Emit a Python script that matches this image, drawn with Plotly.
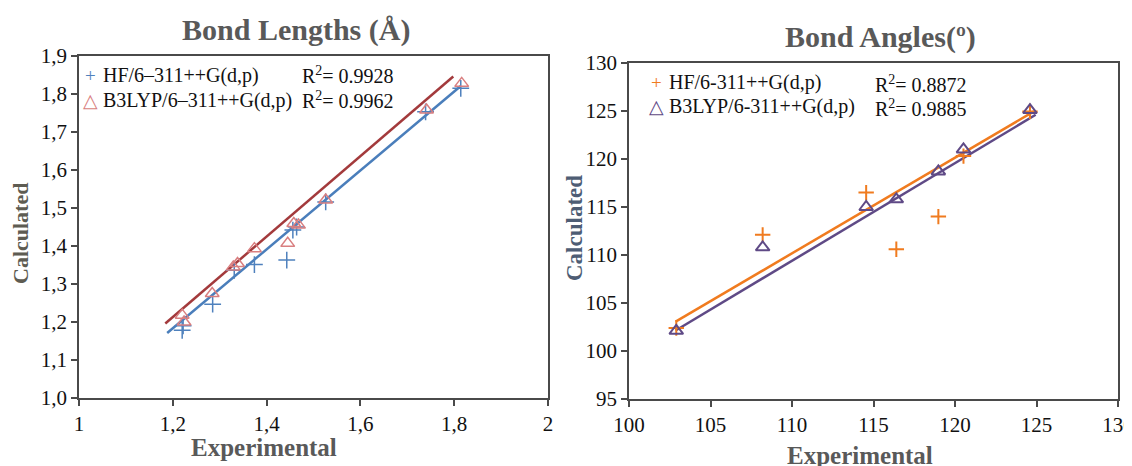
import plotly.graph_objects as go

# ---------------- Bond lengths data ----------------
bl_hf_exp = [1.220, 1.222, 1.285, 1.331, 1.374, 1.443, 1.456, 1.464, 1.526, 1.739, 1.814]
bl_hf_calc = [1.178, 1.190, 1.247, 1.336, 1.351, 1.363, 1.442, 1.450, 1.516, 1.753, 1.815]
bl_b3_exp = [1.220, 1.224, 1.284, 1.329, 1.338, 1.374, 1.445, 1.458, 1.468, 1.526, 1.741, 1.816]
bl_b3_calc = [1.218, 1.200, 1.275, 1.345, 1.354, 1.393, 1.407, 1.459, 1.455, 1.521, 1.758, 1.828]
bl_hf_fit_x = [1.188, 1.814]
bl_hf_fit_y = [1.171, 1.821]
bl_b3_fit_x = [1.184, 1.798]
bl_b3_fit_y = [1.196, 1.846]

# ---------------- Bond angles data ----------------
ba_hf_exp = [102.9, 108.2, 114.55, 116.4, 118.98, 120.52, 124.6]
ba_hf_calc = [102.4, 112.1, 116.5, 110.6, 114.0, 120.3, 124.96]
ba_b3_exp = [102.9, 108.2, 114.55, 116.4, 118.98, 120.52, 124.6]
ba_b3_calc = [102.1, 110.8, 115.0, 115.8, 118.7, 121.0, 125.1]
ba_hf_fit_x = [102.86, 124.84]
ba_hf_fit_y = [103.06, 124.96]
ba_b3_fit_x = [102.86, 124.95]
ba_b3_fit_y = [102.13, 124.61]

W, H = 1132, 466
OFF = 8  # page body margin
SERIF = "Liberation Serif"

BLUE = "#4f81bd"
BLUE_LINE = "#4a7ebb"
RED_MK = "#d97f80"
RED_LINE = "#a33a3c"
ORANGE = "#f07b1f"
PURPLE = "#5f4a86"

fig = go.Figure()

def px_x(p):
    return (p - OFF) / W

def px_y(p):
    return 1 - (p - OFF) / H

# Left chart traces
fig.add_trace(go.Scatter(x=bl_b3_fit_x, y=bl_b3_fit_y, mode="lines",
                         line=dict(color=RED_LINE, width=2.5), xaxis="x", yaxis="y", showlegend=False))
fig.add_trace(go.Scatter(x=bl_hf_fit_x, y=bl_hf_fit_y, mode="lines",
                         line=dict(color=BLUE_LINE, width=2.5), xaxis="x", yaxis="y", showlegend=False))
fig.add_trace(go.Scatter(x=bl_hf_exp, y=bl_hf_calc, mode="markers",
                         marker=dict(symbol="cross-thin-open", size=12, color=BLUE, line=dict(color=BLUE, width=1.5)),
                         xaxis="x", yaxis="y", showlegend=False))
fig.add_trace(go.Scatter(x=bl_b3_exp, y=bl_b3_calc, mode="markers",
                         marker=dict(symbol="triangle-up-open", size=12, color=RED_MK, line=dict(color=RED_MK, width=1.5)),
                         xaxis="x", yaxis="y", showlegend=False))

# Right chart traces
fig.add_trace(go.Scatter(x=ba_hf_fit_x, y=ba_hf_fit_y, mode="lines",
                         line=dict(color=ORANGE, width=2.5), xaxis="x2", yaxis="y2", showlegend=False))
fig.add_trace(go.Scatter(x=ba_b3_fit_x, y=ba_b3_fit_y, mode="lines",
                         line=dict(color=PURPLE, width=2.5), xaxis="x2", yaxis="y2", showlegend=False))
fig.add_trace(go.Scatter(x=ba_hf_exp, y=ba_hf_calc, mode="markers",
                         marker=dict(symbol="cross-thin-open", size=11, color=ORANGE, line=dict(color=ORANGE, width=2)),
                         xaxis="x2", yaxis="y2", showlegend=False))
fig.add_trace(go.Scatter(x=ba_b3_exp, y=ba_b3_calc, mode="markers",
                         marker=dict(symbol="triangle-up-open", size=12, color=PURPLE, line=dict(color=PURPLE, width=2)),
                         xaxis="x2", yaxis="y2", showlegend=False))

axis_common = dict(showgrid=False, zeroline=False, showline=True, linecolor="#4a4a4a", linewidth=1.5,
                   mirror=True, ticks="outside", ticklen=6, tickcolor="#4a4a4a", tickwidth=1.5,
                   automargin=False,
                   tickfont=dict(family=SERIF, size=21, color="#111111"))

fig.update_layout(
    template="none",
    width=W, height=H, margin=dict(l=0, r=0, t=0, b=0, pad=0), autosize=False,
    paper_bgcolor="white", plot_bgcolor="white", separators=",.",
    font=dict(family=SERIF),
    xaxis=dict(domain=[px_x(79), px_x(548)], range=[1, 2], dtick=0.2, tick0=1, anchor="y", **axis_common),
    yaxis=dict(domain=[px_y(398), px_y(56)], range=[1.0, 1.9], dtick=0.1, tick0=1, tickformat=".1f",
               anchor="x", **axis_common),
    xaxis2=dict(domain=[px_x(629), px_x(1118)], range=[100, 130], dtick=5, anchor="y2", **axis_common),
    yaxis2=dict(domain=[px_y(399), px_y(63)], range=[95, 130], dtick=5, anchor="x2", **axis_common),
)

TITLE_C = "#595959"
ann = []
def text(x, y, s, size, color="#111111", bold=False, angle=0, xanchor="center"):
    ann.append(dict(xref="paper", yref="paper", x=px_x(x), y=px_y(y), text=("<b>%s</b>" % s) if bold else s,
                    showarrow=False, xanchor=xanchor, yanchor="middle", textangle=angle,
                    font=dict(family=SERIF, size=size, color=color)))

# Titles
text(296, 30, "Bond Lengths (Å)", 30, TITLE_C, bold=True)
text(880, 37, "Bond Angles(º)", 30, TITLE_C, bold=True)
# Axis titles
text(264, 447, "Experimental", 25, TITLE_C, bold=True)
text(860, 455, "Experimental", 25, TITLE_C, bold=True)
text(20, 234, "Calculated", 22, "#5e5c52", bold=True, angle=-90)
text(574, 228, "Calculated", 23, "#4e5d74", bold=True, angle=-90)

# Left legend
text(91, 75, "+", 19, BLUE)
text(91, 100, "△", 19, RED_MK)
text(101, 75, "HF/6–311++G(d,p)", 20, xanchor="left")
text(101, 100, "B3LYP/6–311++G(d,p)", 20, xanchor="left")
text(300, 75, "R<sup>2</sup>= 0.9928", 20, xanchor="left")
text(300, 100, "R<sup>2</sup>= 0.9962", 20, xanchor="left")

# Right legend
text(656, 82, "+", 19, ORANGE)
text(656, 107, "△", 19, PURPLE)
text(667, 82, "HF/6-311++G(d,p)", 20, xanchor="left")
text(667, 107, "B3LYP/6-311++G(d,p)", 20, xanchor="left")
text(873, 84, "R<sup>2</sup>= 0.8872", 20, xanchor="left")
text(873, 108, "R<sup>2</sup>= 0.9885", 20, xanchor="left")

fig.update_layout(annotations=ann)
fig.write_html("out.html")
